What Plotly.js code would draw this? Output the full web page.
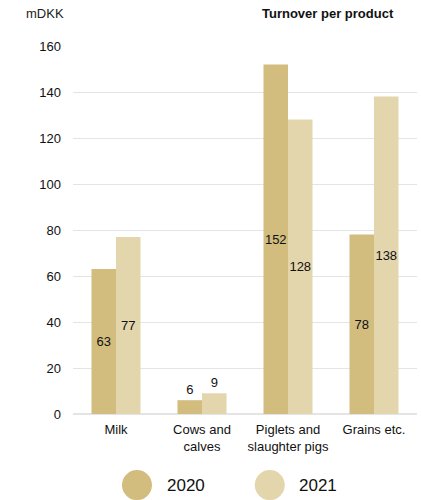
<!DOCTYPE html>
<html>
<head>
<meta charset="utf-8">
<script src="https://cdn.plot.ly/plotly-3.0.1.min.js"></script>
<style>
  html, body { margin: 0; padding: 0; background: #fff; }
  #chart { width: 421px; height: 500px; }
</style>
</head>
<body>
<div id="chart"></div>
<script>
// Turnover per product, mDKK
const categories = ['Milk', 'Cows and<br>calves', 'Piglets and<br>slaughter pigs', 'Grains etc.'];
const values2020 = [63, 6, 152, 78];
const values2021 = [77, 9, 128, 138];
const seriesNames = ['2020', '2021'];
const seriesColors = ['#d2bd7e', '#e3d5ac'];

const font = 'Liberation Sans, Arial, sans-serif';

function barTrace(name, values, color) {
  return {
    type: 'bar',
    name: name,
    x: categories,
    y: values,
    marker: { color: color },
    text: values.map(String),
    // short bars carry their label above, tall ones in the middle
    textposition: values.map(v => (v < 20 ? 'outside' : 'inside')),
    insidetextanchor: 'middle',
    textangle: 0,
    insidetextfont: { family: font, size: 13, color: '#111' },
    outsidetextfont: { family: font, size: 13, color: '#111' },
    cliponaxis: false,
    hoverinfo: 'x+y',
    showlegend: false
  };
}

const data = [
  barTrace(seriesNames[0], values2020, seriesColors[0]),
  barTrace(seriesNames[1], values2021, seriesColors[1])
];

// Legend drawn as large round swatches below the axis
const legendX = [0.186, 0.572];
const shapes = [];
const annotations = [];
seriesNames.forEach((n, i) => {
  shapes.push({
    type: 'circle', xref: 'paper', yref: 'paper', xsizemode: 'pixel', ysizemode: 'pixel',
    xanchor: legendX[i], yanchor: -0.193,
    x0: -15, x1: 15, y0: -15, y1: 15,
    fillcolor: seriesColors[i], line: { width: 0 }
  });
  annotations.push({
    text: n, xref: 'paper', yref: 'paper', x: legendX[i] + 0.08, y: -0.193,
    xanchor: 'left', yanchor: 'middle', showarrow: false,
    font: { family: font, size: 17, color: '#111' }
  });
});

annotations.push({
  text: 'mDKK', xref: 'paper', yref: 'paper', x: -0.142, y: 1.088,
  xanchor: 'left', yanchor: 'middle', showarrow: false,
  font: { family: font, size: 13, color: '#222' }
});
annotations.push({
  text: '<b>Turnover per product</b>', xref: 'paper', yref: 'paper', x: 0.94, y: 1.088,
  xanchor: 'right', yanchor: 'middle', showarrow: false,
  font: { family: font, size: 13, color: '#111' }
});

const layout = {
  width: 421, height: 500,
  margin: { l: 73, r: 4, t: 46, b: 86 },
  paper_bgcolor: '#fff', plot_bgcolor: '#fff',
  barmode: 'group',
  bargap: 0.43,
  bargroupgap: 0,
  uniformtext: { mode: 'show', minsize: 13 },
  font: { family: font, size: 13, color: '#111' },
  xaxis: {
    tickfont: { family: font, size: 13, color: '#111' },
    ticks: '', ticklabelstandoff: 6,
    showgrid: false, zeroline: false, showline: false,
    fixedrange: true
  },
  yaxis: {
    range: [0, 160], dtick: 20,
    tickfont: { family: font, size: 13, color: '#111' },
    ticks: '', ticklabelstandoff: 11,
    gridcolor: '#e4e4e4', gridwidth: 1,
    zeroline: true, zerolinecolor: '#e4e4e4', zerolinewidth: 2,
    showline: false, fixedrange: true
  },
  shapes: shapes,
  annotations: annotations,
  showlegend: false
};

Plotly.newPlot('chart', data, layout, { displayModeBar: false, staticPlot: true });
</script>
</body>
</html>
